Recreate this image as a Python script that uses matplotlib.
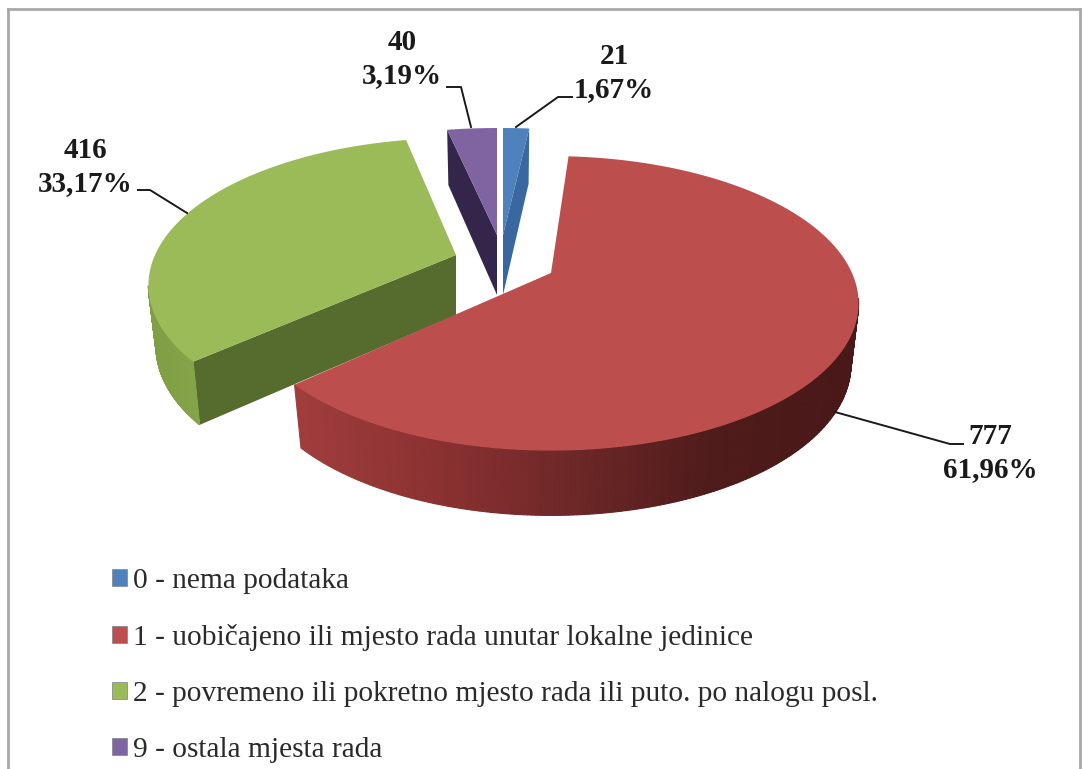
import numpy as np
import matplotlib.pyplot as plt
from matplotlib.colors import LinearSegmentedColormap
from matplotlib.patches import Patch

categories = ['0 - nema podataka',
              '1 - uobičajeno ili mjesto rada unutar lokalne jedinice',
              '2 - povremeno ili pokretno mjesto rada ili puto. po nalogu posl.',
              '9 - ostala mjesta rada']
counts = [21, 777, 416, 40]
percents = ['1,67%', '61,96%', '33,17%', '3,19%']

top_colors = ['#4f81bd', '#bc4f4d', '#9bbb59', '#8064a2']
face_colors = ['#38689f', '#7a2c2c', '#566b2e', '#33264a']

# where each exploded slice has its tip, on the image
tips = [(503, 235), (551, 273), (456, 255), (497, 235)]
# back slices look a bit flatter, red is turned slightly
y_scale = [0.915, 1.0, 1.0, 0.915]
turn = [0.0, -2.0, 0.0, 0.0]

A, B, K = 301.0, 141.0, 0.206
DEPTH = 60.0
SHRINK = 0.975

plt.rcParams['font.family'] = ['Liberation Serif', 'DejaVu Serif']
fig = plt.figure(figsize=(10.83, 7.69), dpi=100)
ax = fig.add_axes([0, 0, 1, 1])
ax.set_xlim(0, 1083)
ax.set_ylim(769, 0)
ax.axis('off')


def project(theta, r, i, low=False):
    # theta clockwise from the top, in radians; tilted circle with perspective
    t = theta + np.radians(turn[i])
    x = r * np.sin(t)
    y = r * np.cos(t)
    w = 1 + K * y
    sx = A * x / w
    sy = -B * y_scale[i] * y / w
    if low:
        return tips[i][0] + sx * SHRINK, tips[i][1] + sy + DEPTH * (1 - 0.08 * y)
    return tips[i][0] + sx, tips[i][1] + sy


def side_strips(t0, t1, i, cmap, x0, x1, zorder):
    ts = np.linspace(t0, t1, 200)
    for a, b in zip(ts[:-1], ts[1:]):
        xa, ya = project(a, 1, i)
        xb, yb = project(b, 1, i)
        xc, yc = project(b, 1, i, low=True)
        xd, yd = project(a, 1, i, low=True)
        c = cmap(np.clip(((xa + xb) / 2 - x0) / (x1 - x0), 0, 1))
        ax.fill([xa, xb, xc, xd], [ya, yb, yc, yd], color=c, lw=0.8, zorder=zorder)


def radial_face(theta, i, zorder):
    xa, ya = project(theta, 1, i)
    xc, yc = project(theta, 1, i, low=True)
    xt, yt = project(theta, 0, i)
    xb, yb = project(theta, 0, i, low=True)
    ax.fill([xt, xa, xc, xb], [yt, ya, yc, yb], color=face_colors[i], lw=0, zorder=zorder)


def top_face(t0, t1, i, zorder):
    ts = np.linspace(t0, t1, 200)
    xs, ys = project(ts, 1, i)
    xt, yt = project(0.0, 0, i)
    ax.fill(np.r_[xt, xs], np.r_[yt, ys], color=top_colors[i], lw=0, zorder=zorder)


edges = np.r_[0, np.cumsum(counts)] / np.sum(counts) * 2 * np.pi
starts, ends = edges[:-1], edges[1:]

red_side = LinearSegmentedColormap.from_list('r', ['#a03c3c', '#8a3131', '#6d2727', '#4f1b1b', '#4a1818'])
green_side = LinearSegmentedColormap.from_list('g', ['#7f9e45', '#86a64a'])

# green
radial_face(starts[2], 2, 2)
side_strips(np.radians(258), starts[2], 2, green_side, 150, 205, 2)
top_face(starts[2], ends[2], 2, 3)

# purple and blue, thin slices at the back
radial_face(starts[3], 3, 2)
top_face(starts[3], ends[3], 3, 3)
radial_face(ends[0], 0, 2)
top_face(starts[0], ends[0], 0, 3)

# red in front of everything
side_strips(np.radians(102), ends[1], 1, red_side, 300, 850, 4)
top_face(starts[1], ends[1], 1, 5)

# labels with their leader lines
label_xy = [(614, 73), (990, 453), (85, 167), (402, 59)]
leaders = [[(516, 127), (558, 97), (572, 97)],
           [(835, 412), (950, 444), (963, 444)],
           [(187, 213), (150, 190), (138, 190)],
           [(471, 127), (461, 87), (447, 87)]]
for i in range(4):
    ax.text(label_xy[i][0], label_xy[i][1], f'{counts[i]}\n{percents[i]}', ha='center', va='center',
            fontsize=21, fontweight='bold', color='#1a1a1a', linespacing=1.3, zorder=6)
    xs, ys = zip(*leaders[i])
    ax.plot(xs, ys, color='#1a1a1a', lw=1.4, zorder=6)

# frame
ax.plot([8, 8], [769, 9], color='#a8a8a8', lw=2)
ax.plot([8, 1080], [9, 9], color='#a8a8a8', lw=2)
ax.plot([1080, 1080], [9, 769], color='#a8a8a8', lw=2)

handles = [Patch(facecolor=c, edgecolor='#808080', lw=0.5) for c in top_colors]
ax.legend(handles, categories, loc='upper left', bbox_to_anchor=(112 / 1083, 1 - 568 / 769),
          frameon=False, fontsize=21.15, labelspacing=1.02, handlelength=0.52, handleheight=0.52,
          handletextpad=0.2, borderpad=0, borderaxespad=0, labelcolor='#2a2a2a')

fig.savefig('out.png', dpi=100)
